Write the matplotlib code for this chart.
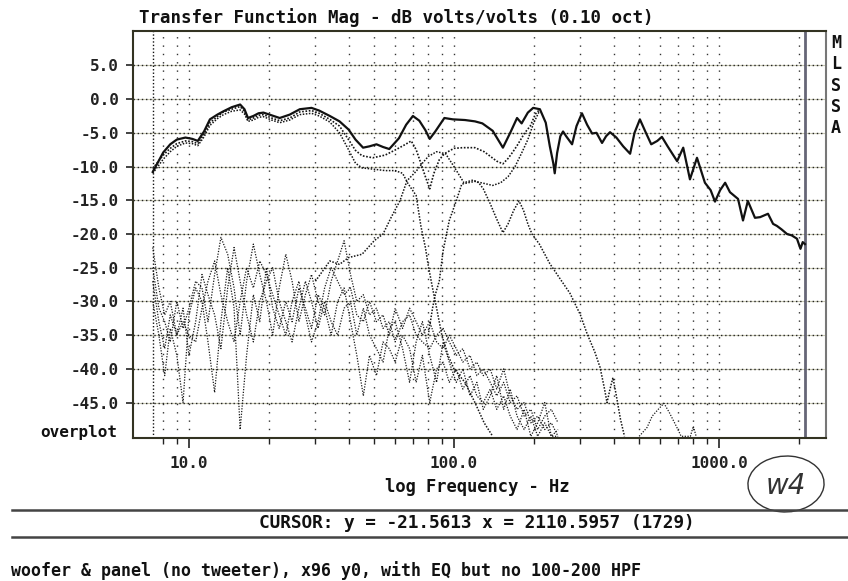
import matplotlib.pyplot as plt
from matplotlib.patches import Ellipse
from matplotlib.lines import Line2D

# total response (solid trace)
tot_f = [7.3, 8.0, 8.5, 9.0, 9.7, 10.3, 10.8, 11.4, 12.0, 12.8, 13.5, 14.5, 15.6, 16.2, 16.7,
         17.5, 18.3, 19.1, 20.5, 22.0, 24.0, 26.2, 29.0, 31.0, 34.0, 37.0, 40.0, 42.5, 45.4,
         48.0, 51.0, 54.0, 57.0, 62.0, 66.0, 70.0, 74.0, 78.0, 81.0, 85.0, 92.0, 99.0, 110,
         120, 128, 140, 153, 163, 173, 180, 190, 199, 211, 222, 230, 237, 240, 245, 252, 258,
         265, 279, 290, 304, 318, 332, 345, 362, 375, 388, 410, 435, 462, 480, 503, 530, 555,
         585, 609, 640, 695, 733, 777, 826, 885, 930, 966, 1010, 1055, 1100, 1180, 1232, 1285,
         1367, 1430, 1531, 1600, 1654, 1720, 1806, 1880, 1969, 2030, 2070, 2110]
tot_db = [-10.8, -7.9, -6.7, -6.0, -5.7, -5.9, -6.2, -4.8, -3.0, -2.3, -1.8, -1.2, -0.8, -1.5, -2.8,
          -2.5, -2.1, -2.0, -2.4, -2.8, -2.3, -1.5, -1.3, -1.7, -2.5, -3.3, -4.5, -6.0, -7.2,
          -7.0, -6.7, -7.1, -7.4, -5.8, -3.8, -2.5, -3.2, -4.6, -5.9, -4.8, -2.8, -3.0, -3.1,
          -3.3, -3.6, -4.7, -7.2, -5.0, -2.8, -3.6, -2.0, -1.3, -1.5, -3.5, -7.0, -9.5, -11.0, -8.0, -5.5, -4.8,
          -5.5, -6.7, -4.0, -2.1, -3.8, -5.1, -5.0, -6.5, -5.5, -4.9, -5.7, -7.0, -8.1, -5.0, -3.0, -5.0, -6.7,
          -6.2, -5.6, -7.0, -9.2, -7.2, -11.9, -8.7, -12.4, -13.5, -15.2, -13.5, -12.4, -13.8, -14.8, -18.0, -15.1,
          -17.6, -17.5, -17.0, -18.5, -18.8, -19.3, -20.0, -20.2, -20.7, -22.2, -21.2, -21.5]

# dotted trace, upper middle branch
b_f = [7.3, 8.0, 8.5, 9.0, 9.7, 10.3, 10.8, 11.4, 12.0, 12.8, 13.5, 14.5, 15.6, 16.2, 16.7, 17.5,
       18.3, 19.1, 20.5, 22.0, 24.0, 26.2, 29.0, 31.0, 34.0, 37.0, 40.0, 42.5, 45, 49.4, 55, 61,
       65, 69, 72, 75, 78, 81, 84, 88, 92, 100, 108, 120, 130, 145, 153, 160, 167, 173, 185, 194,
       203, 211]
b_db = [-10.3, -8.3, -7.3, -6.6, -6.2, -6.3, -6.6, -5.2, -3.5, -2.6, -1.9, -1.5, -1.1, -1.8, -3.1, -2.8,
        -2.4, -2.3, -2.8, -3.2, -2.8, -1.9, -1.7, -2.1, -3.0, -4.0, -6.0, -7.6, -8.4, -8.7, -8.3, -7.4,
        -6.8, -6.2, -7.5, -9.5, -11.5, -13.3, -11.0, -9.0, -8.1, -7.3, -7.2, -7.2, -7.8, -9.2, -9.6, -8.8,
        -7.8, -6.9, -5.0, -4.0, -2.2, -1.5]

# dotted trace, lower branch falling into a notch
c_f = [7.3, 8.0, 8.5, 9.0, 9.7, 10.3, 10.8, 11.4, 12.0, 12.8, 13.5, 14.5, 15.6, 16.2, 16.7, 17.5,
       18.3, 19.1, 20.5, 22.0, 24.0, 26.2, 29.0, 31.0, 34.0, 37.0, 40.0, 42.5, 45, 50, 55, 60, 64,
       67, 72, 75, 78, 80, 83, 86, 90, 95, 100, 110, 120, 130, 140]
c_db = [-11.0, -8.9, -7.8, -7.0, -6.5, -6.6, -6.9, -5.6, -3.9, -2.9, -2.3, -1.8, -1.6, -2.2, -3.3, -3.1,
        -2.7, -2.6, -3.1, -3.5, -3.1, -2.3, -2.1, -2.5, -3.4, -5.0, -7.5, -9.5, -10.2, -10.4, -10.6, -10.6,
        -11.0, -12.5, -14.3, -18.8, -22.0, -24.7, -28.0, -31.0, -35.0, -38.0, -40.0, -42.0, -45.0, -48.0, -50.0]

# dotted band-pass trace
d_f = [30, 34, 37, 40, 45, 50, 54, 58, 62.5, 66.5, 72, 76, 80, 86, 93, 100, 109, 118, 124, 129, 137,
       145, 153, 160, 168, 176, 183, 190, 197, 210, 230, 250, 274, 300, 318, 340, 356, 370, 378, 388,
       398, 410, 425, 440]
d_db = [-27.0, -24.0, -24.5, -23.5, -23.0, -21.0, -20.0, -17.5, -15.1, -12.1, -10.7, -9.5, -8.5, -7.8,
        -8.1, -10.0, -12.4, -12.0, -12.4, -13.3, -15.5, -17.8, -19.8, -18.5, -16.5, -15.1, -16.5, -18.5,
        -20.0, -21.5, -24.4, -26.5, -28.8, -32.0, -34.8, -37.5, -39.8, -43.0, -45.0, -43.0, -41.3, -44.0,
        -47.5, -50.0]

# dotted trace rising out of the notch
e_f = [80, 83, 85, 88, 91, 96, 102, 107, 113, 120, 130, 140, 150, 160, 170, 180, 190, 200, 210]
e_db = [-35.0, -31.0, -29.0, -27.0, -22.5, -18.0, -15.1, -12.6, -12.4, -12.2, -12.5, -12.8, -12.4,
        -11.5, -10.0, -8.0, -6.0, -3.5, -1.8]

# small hump near 600 Hz
h_f = [500, 535, 560, 590, 620, 650, 690, 720, 780, 800, 820]
h_db = [-50.0, -48.7, -47.0, -46.0, -45.1, -46.5, -48.5, -50.0, -50.0, -48.5, -50.0]

# noisy low-level traces
n_f = [7.3, 7.7, 8.1, 8.5, 9.0, 9.5, 10, 10.6, 11.2, 11.8, 12.5, 13.2, 14, 14.8, 15.6, 16.5, 17.5,
       18.5, 19.6, 20.7, 21.9, 23.2, 24.5, 26, 27.5, 29, 30.7, 32.5, 34.4, 36.4, 38.5, 40.7, 43, 45.5,
       48, 51, 54, 57, 60, 64, 68, 72, 76, 81, 86, 91, 96, 102, 108, 115, 122, 129, 137, 145, 154, 163,
       173, 184, 195, 207, 220, 233, 247]
n1_db = [-25, -31, -33, -36, -30, -34, -31, -27, -28, -33, -26, -20.5, -23, -28, -35, -27, -21.5,
         -26, -30, -35, -28, -23, -27, -33, -29, -26, -30, -32, -27, -24, -21, -26, -30, -29,
         -32, -31, -34, -33, -36, -33, -32, -35, -36, -37, -35, -34, -36, -38, -37, -40, -39, -41, -40, -43,
         -40, -44, -46, -45, -48, -47, -49, -48, -50]
n2_db = [-30, -35, -41, -34, -38, -45, -32, -28, -30, -36, -43.5, -33, -25, -31, -49, -38, -29,
         -33, -25, -31, -34, -30, -33, -28, -31, -34, -29, -31, -35, -30, -28, -33, -38, -44,
         -38, -41, -36, -37, -39, -35, -37, -42, -38, -45, -40, -39, -42, -40, -43, -41, -44, -45, -43, -46,
         -44, -47, -49, -46, -50, -48, -45, -50, -49]
n3_db = [-22, -28, -32, -30, -35, -33, -35, -36, -31, -27, -24, -29, -33, -36, -30, -25, -28,
         -24, -26, -29, -32, -35, -30, -27, -32, -36, -33, -28, -25, -27, -29, -28, -32, -33,
         -30, -33, -32, -35, -31, -34, -31, -33, -35, -33, -36, -37, -35, -37, -39, -38, -41, -40, -42, -44,
         -42, -45, -44, -47, -46, -49, -47, -46, -48]
n4_db = [-27, -33, -37, -32, -35, -31, -38, -33, -26, -29, -32, -37, -28, -22, -27, -32, -36,
         -30, -27, -25, -30, -33, -36, -31, -27, -30, -34, -30, -33, -35, -31, -30, -35, -31,
         -35, -37, -39, -34, -33, -37, -42, -36, -33, -38, -42, -36, -39, -42, -40, -44, -42, -46, -44, -41,
         -46, -43, -47, -49, -47, -50, -48, -50, -50]

y_ticks = [5, 0, -5, -10, -15, -20, -25, -30, -35, -40, -45]
x_major = [10, 100, 1000]
x_labels = ['10.0', '100.0', '1000.0']
x_grid = [8, 9, 20, 30, 40, 50, 60, 70, 80, 90, 200, 300, 400, 500, 600, 700, 800, 900, 2000]

mono = 'DejaVu Sans Mono'
W, H = 848, 581

fig = plt.figure(figsize=(W / 100, H / 100), dpi=100)
ax = fig.add_axes([133 / W, 1 - 438 / H, (826 - 133) / W, (438 - 31) / H])
ax.set_xscale('log')
ax.set_xlim(6.15, 2534)
ax.set_ylim(-50.25, 10.1)

# grid: dotted, as on the scanned plotter output
for y in y_ticks:
    ax.axhline(y, color='#c9c9b4', lw=0.8, zorder=0)
    ax.axhline(y, color='#222222', lw=1.0, ls=(0, (1, 2)), zorder=1)
for x in x_grid + x_major:
    ax.axvline(x, color='#333333', lw=1.0, ls=(0, (1, 5)), zorder=1)
ax.axvline(7.3, color='#111111', lw=1.0, ls=(0, (1, 1.5)), zorder=1)
ax.axvline(2110.6, color='#666677', lw=2.0, zorder=1)

dot = dict(color='#1a1a1a', lw=0.9, ls=(0, (1, 1.2)), zorder=2)
for ndb in [n1_db, n2_db, n3_db, n4_db]:
    ax.plot(n_f, ndb, **dot)
ax.plot(h_f, h_db, **dot)
ax.plot(d_f, d_db, color='#151515', lw=1.1, ls=(0, (1, 1)), zorder=3)
ax.plot(e_f, e_db, color='#151515', lw=1.1, ls=(0, (1, 1)), zorder=3)
ax.plot(c_f, c_db, color='#151515', lw=1.1, ls=(0, (1, 1)), zorder=3)
ax.plot(b_f, b_db, color='#151515', lw=1.2, ls=(0, (1, 1)), zorder=3)
ax.plot(tot_f, tot_db, color='#111111', lw=1.6, zorder=4)

ax.set_yticks(y_ticks)
ax.set_yticklabels(['%.1f' % v for v in y_ticks])
ax.set_xticks(x_major)
ax.set_xticklabels(x_labels)
ax.set_xticks(x_grid, minor=True)
ax.set_xticklabels([], minor=True)
ax.tick_params(axis='y', direction='out', length=5, width=1.2, pad=5, colors='#222222')
ax.tick_params(axis='x', which='major', direction='out', length=7, width=1.2, pad=6, colors='#222222')
ax.tick_params(axis='x', which='minor', direction='out', length=4, width=1.0, colors='#222222')
for lab in ax.get_xticklabels() + ax.get_yticklabels():
    lab.set_family(mono)
    lab.set_weight('bold')
    lab.set_size(11.5)
for side in ['left', 'bottom', 'top']:
    ax.spines[side].set_linewidth(1.5)
    ax.spines[side].set_color('#333322')
ax.spines['right'].set_linewidth(1.5)
ax.spines['right'].set_color('#777777')

fig.text(396 / W, 1 - 18 / H, 'Transfer Function Mag - dB volts/volts (0.10 oct)',
         family=mono, weight='bold', size=12.6, ha='center', va='center', color='#111111')
fig.text(117 / W, 1 - 433 / H, 'overplot', family=mono, weight='bold', size=11.5,
         ha='right', va='center', color='#111111')
for i, ch in enumerate('MLSSA'):
    fig.text(836 / W, 1 - (43 + i * 21.3) / H, ch, family=mono, weight='bold', size=12,
             ha='center', va='center', color='#111111')

fig.text(477 / W, 1 - 487 / H, 'log Frequency - Hz', family=mono, weight='bold', size=12.3,
         ha='center', va='center', color='#111111')
fig.add_artist(Line2D([12 / W, 1], [1 - 510 / H] * 2, transform=fig.transFigure,
                      color='#444444', lw=1.8))
fig.text(477 / W, 1 - 523 / H, 'CURSOR: y = -21.5613 x = 2110.5957 (1729)', family=mono,
         weight='bold', size=12.8, ha='center', va='center', color='#111111')
fig.add_artist(Line2D([12 / W, 1], [1 - 537 / H] * 2, transform=fig.transFigure,
                      color='#444444', lw=1.8))
fig.text(11 / W, 1 - 571 / H, 'woofer & panel (no tweeter), x96 y0, with EQ but no 100-200 HPF',
         family=mono, weight='bold', size=12, ha='left', va='center', color='#111111')

# handwritten tag
fig.add_artist(Ellipse((786 / W, 1 - 484 / H), 76 / W, 56 / H, angle=-8, fill=False,
                       transform=fig.transFigure, color='#333333', lw=1.0))
fig.text(786 / W, 1 - 486 / H, 'w4', size=20, style='italic', ha='center', va='center',
         color='#333333', family='DejaVu Sans')

fig.savefig('out.png', dpi=100)
